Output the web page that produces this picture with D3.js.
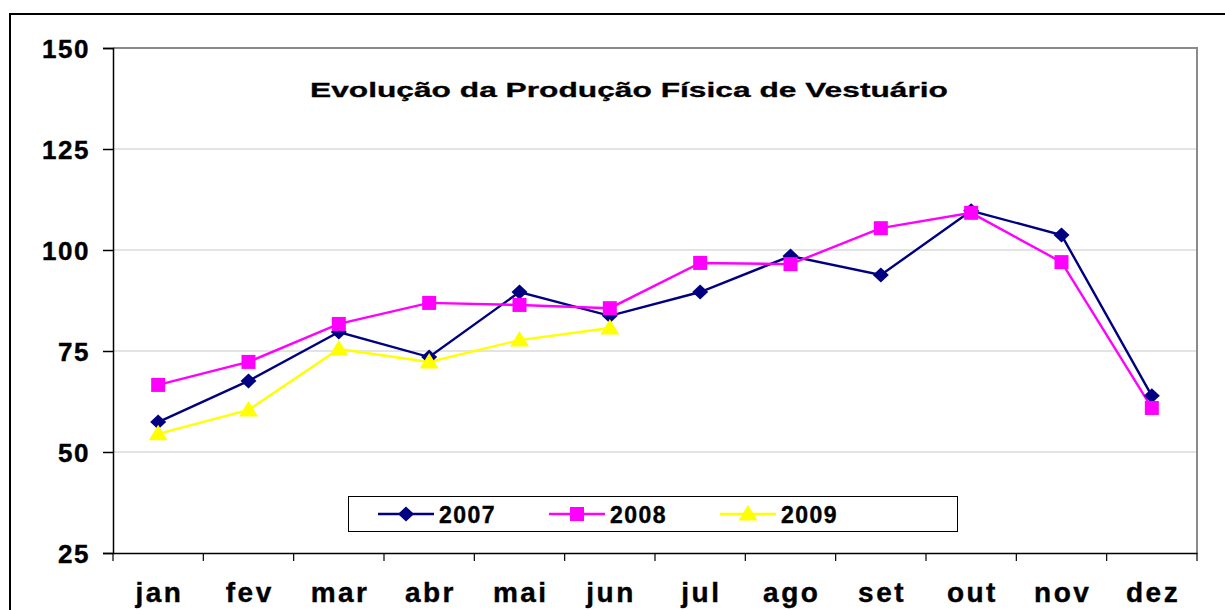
<!DOCTYPE html>
<html><head><meta charset="utf-8">
<script src="https://cdn.jsdelivr.net/npm/d3@7"></script>
<style>body{margin:0;background:#fff}svg{display:block;font-family:"Liberation Sans",Arial,sans-serif}</style>
</head><body><svg id="c" width="1225" height="610"></svg>
<script>
const months = ["jan","fev","mar","abr","mai","jun","jul","ago","set","out","nov","dez"];
const yTicks = [25,50,75,100,125,150];
const s2007 = [57.4,67.6,79.7,73.5,89.6,83.7,89.6,98.5,93.8,109.7,103.7,63.9];
const s2008 = [66.6,72.3,81.7,86.9,86.4,85.6,96.8,96.5,105.4,109.2,97.0,60.9];
const s2009 = [54.5,60.4,75.5,72.3,77.7,80.7];
const title = "Evolução da Produção Física de Vestuário";

const diamond = {draw(ctx){ctx.moveTo(0,-7.5);ctx.lineTo(8,0);ctx.lineTo(0,7.5);ctx.lineTo(-8,0);ctx.closePath();}};
const square = {draw(ctx){ctx.rect(-7,-7,14,14);}};
const triangle = {draw(ctx){ctx.moveTo(0,-9);ctx.lineTo(9.5,6.5);ctx.lineTo(-9.5,6.5);ctx.closePath();}};

const series = [
  {name:"2007", values:s2007, color:"#000080", sym:diamond},
  {name:"2008", values:s2008, color:"#ff00ff", sym:square},
  {name:"2009", values:s2009, color:"#ffff00", sym:triangle}
];

const svg = d3.select("#c");
const L=113, R=1197, T=48, B=553;
const x = d3.scaleBand().domain(months).range([L,R]);
const y = d3.scaleLinear().domain([25,150]).range([B,T]);
const FF = "'Liberation Sans',Arial,sans-serif";

svg.append("path").attr("d",`M10,610 V14 H1225`).attr("fill","none").attr("stroke","#000").attr("stroke-width",2);

svg.append("g").selectAll("line").data(yTicks.filter(v=>v>25 && v<150)).join("line")
  .attr("x1",L).attr("x2",R).attr("y1",d=>y(d)).attr("y2",d=>y(d))
  .attr("stroke","#c8c8c8").attr("stroke-width",1);

svg.append("path").attr("d",`M${L},${T} H${R} V${B}`).attr("fill","none").attr("stroke","#8a8a8a").attr("stroke-width",2);

const ya = svg.append("g").attr("transform",`translate(${L},0)`)
  .call(d3.axisLeft(y).tickValues(yTicks).tickSize(10).tickPadding(13));
ya.select(".domain").attr("stroke","#000").attr("stroke-width",1.5);
ya.selectAll(".tick line").attr("stroke","#000").attr("stroke-width",1.5);
ya.selectAll("text").attr("font-size",26).attr("font-weight","bold").attr("fill","#000")
  .attr("letter-spacing","1.5px").attr("dy","0.36em").attr("font-family",FF)
  .attr("stroke","#000").attr("stroke-width",0.4);

const xa = svg.append("g").attr("transform",`translate(0,${B})`)
  .call(d3.axisBottom(x).tickSize(0).tickPadding(0));
xa.select(".domain").attr("stroke","#000").attr("stroke-width",1.5);
xa.selectAll("text").attr("font-size",28).attr("font-weight","bold").attr("fill","#000")
  .attr("letter-spacing","2.5px").attr("dy",null).attr("y",49).attr("dx","1.25px").attr("font-family",FF)
  .attr("stroke","#000").attr("stroke-width",0.4);
svg.append("g").selectAll("line").data(months.map(m=>x(m)).concat([R])).join("line")
  .attr("x1",d=>d).attr("x2",d=>d).attr("y1",B).attr("y2",B+8)
  .attr("stroke","#000").attr("stroke-width",1.2);

svg.append("text").attr("x",310).attr("y",97)
  .attr("font-size",21).attr("font-weight","bold").attr("stroke","#000").attr("stroke-width",0.3)
  .attr("textLength",638).attr("lengthAdjust","spacingAndGlyphs").text(title);

const cx = m => x(m)+x.bandwidth()/2;
series.forEach(s=>{
  const pts = s.values.map((v,i)=>[months[i],v]);
  svg.append("path").datum(pts)
    .attr("d",d3.line().x(d=>cx(d[0])).y(d=>y(d[1])))
    .attr("fill","none").attr("stroke",s.color).attr("stroke-width",2.4);
});
series.forEach(s=>{
  const pts = s.values.map((v,i)=>[months[i],v]);
  svg.append("g").selectAll("path").data(pts).join("path")
    .attr("transform",d=>`translate(${cx(d[0])},${y(d[1])})`)
    .attr("d",d3.symbol().type(s.sym))
    .attr("fill",s.color);
});

const lg = svg.append("g");
lg.append("rect").attr("x",348.5).attr("y",496.5).attr("width",609).attr("height",35)
  .attr("fill","#fff").attr("stroke","#000").attr("stroke-width",1);
const lx = [378,549,720];
series.forEach((s,i)=>{
  const g = lg.append("g").attr("transform",`translate(${lx[i]},514)`);
  g.append("line").attr("x1",0).attr("x2",56).attr("stroke",s.color).attr("stroke-width",2.4);
  g.append("path").attr("transform","translate(28,0)").attr("d",d3.symbol().type(s.sym)).attr("fill",s.color);
  g.append("text").attr("x",61).attr("y",8.5).attr("font-size",23).attr("font-weight","bold")
    .attr("stroke","#000").attr("stroke-width",0.4)
    .attr("letter-spacing","1.5px").text(s.name);
});
</script></body></html>
